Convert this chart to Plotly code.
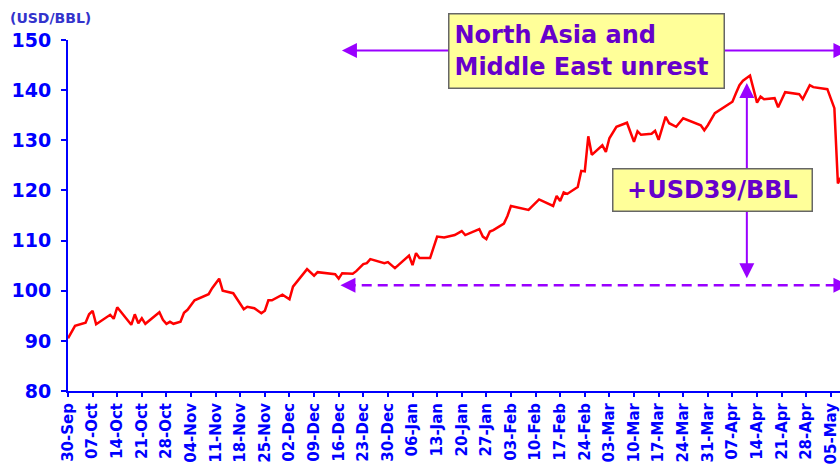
import pandas as pd
import plotly.graph_objects as go

# ---- data ----
start_date = "2010-09-30"
day_offset = [0, 2, 5, 6, 7, 8, 12, 13, 14, 18, 19, 20, 21, 22, 26, 27, 28, 29, 30, 32,
              33, 34, 36, 40, 41, 43, 44, 47, 50, 51, 53, 55, 56, 57, 58, 61, 63, 64, 68, 70,
              71, 76, 77, 78, 81, 82, 84, 85, 86, 90, 91, 93, 97, 98, 99, 100, 103, 105, 107, 110,
              112, 113, 117, 118, 119, 120, 121, 124, 125, 126, 131, 134, 138, 139, 140, 141, 142, 145, 146, 147,
              148, 149, 152, 153, 154, 156, 159, 161, 162, 163, 166, 167, 168, 170, 171, 173, 175, 180, 181, 182,
              184, 187, 189, 190, 191, 192, 194, 196, 197, 198, 201, 202, 204, 208, 209, 211, 212, 216, 218, 219,
              220]
price = [90.5, 93.0, 93.6, 95.3, 96.0, 93.3, 95.2, 94.4, 96.7, 93.2, 95.3, 93.5, 94.5, 93.4, 95.7, 94.2, 93.4, 93.8, 93.4, 93.8,
         95.6, 96.2, 98.1, 99.3, 100.5, 102.4, 100.0, 99.5, 96.3, 96.8, 96.5, 95.5, 96.0, 98.1, 98.1, 99.2, 98.3, 100.8, 104.3, 103.0,
         103.7, 103.3, 102.4, 103.5, 103.4, 103.9, 105.3, 105.5, 106.3, 105.5, 105.7, 104.5, 107.0, 105.1, 107.5, 106.5, 106.5, 110.8, 110.6, 111.1,
         111.9, 111.1, 112.3, 110.8, 110.3, 111.8, 112.1, 113.4, 114.9, 116.9, 116.1, 118.2, 116.9, 118.9, 117.9, 119.6, 119.3, 120.7, 123.9, 123.8,
         130.8, 127.1, 129.0, 127.7, 130.4, 132.7, 133.5, 129.7, 131.8, 131.1, 131.3, 131.9, 130.1, 134.7, 133.4, 132.7, 134.4, 133.0, 132.0, 133.0,
         135.4, 136.7, 137.7, 139.4, 141.0, 141.9, 142.9, 137.5, 138.7, 138.2, 138.4, 136.6, 139.6, 139.2, 138.2, 141.0, 140.6, 140.2, 136.4, 121.4,
         122.8]
y_ticks = [80, 90, 100, 110, 120, 130, 140, 150]
unit_label = "(USD/BBL)"
box1_text = "North Asia and<br>Middle East unrest"
box2_text = "+USD39/BBL"
unrest_level = 147.9       # solid arrow level
base_level = 101.1         # dashed line level
rise_top, rise_bottom = 141.4, 102.7

# ---- helpers ----
t0 = pd.Timestamp(start_date)
def d(days):
    return t0 + pd.Timedelta(days=days)

dates = [d(o) for o in day_offset]

BLUE = "#0000FF"
PURPLE = "#9900FF"
TEXT_PURPLE = "#6600CC"
FONT = "DejaVu Sans"

W, H = 840, 464
ML, MR, MT, MB = 68, 0, 40, 73
x_end = d(219.6)

fig = go.Figure()
fig.add_trace(go.Scatter(x=dates, y=price, mode="lines",
                         line=dict(color="#FF0000", width=2.5),
                         showlegend=False, hoverinfo="skip"))

# dashed baseline
fig.add_shape(type="line", xref="x", yref="y", x0=d(79), x1=d(221), y0=base_level, y1=base_level,
              line=dict(color=PURPLE, width=2.5, dash="10px,6px"))

ann = []
arrow_common = dict(xref="x", yref="y", axref="x", ayref="y", text="", showarrow=True,
                    arrowcolor=PURPLE, arrowwidth=2, arrowsize=1.5, arrowhead=2,
                    startarrowhead=2, startarrowsize=1.5, standoff=0, startstandoff=0)
# solid double arrow
ann.append(dict(x=d(222), y=unrest_level, ax=d(77.5), ay=unrest_level, arrowside="end+start", **arrow_common))
# vertical double arrow
ann.append(dict(x=d(193.1), y=rise_top, ax=d(193.1), ay=rise_bottom - 0.5, arrowside="end+start", **arrow_common))
# dashed line arrowheads
ann.append(dict(x=d(77.5), y=base_level, ax=d(80), ay=base_level, arrowside="end", **arrow_common))
ann.append(dict(x=d(222), y=base_level, ax=d(219), ay=base_level, arrowside="end", **arrow_common))

# text boxes
ann.append(dict(x=d(147.8), y=unrest_level, xref="x", yref="y", text=box1_text, showarrow=False,
                xanchor="center", yanchor="middle", align="left", width=264, height=63,
                xshift=-1,
                font=dict(family=FONT, size=24, color=TEXT_PURPLE, weight="bold"),
                bgcolor="#FFFF99", bordercolor="#666666", borderwidth=1.5, borderpad=5))
ann.append(dict(x=d(183.4), y=120.0, xref="x", yref="y", text=box2_text, showarrow=False,
                xanchor="center", yanchor="middle", align="center", width=188, height=31,
                font=dict(family=FONT, size=24, color=TEXT_PURPLE, weight="bold"),
                bgcolor="#FFFF99", bordercolor="#666666", borderwidth=1.5, borderpad=5))

# unit label
pw, ph = W - ML - MR, H - MT - MB
ann.append(dict(x=(8 - ML) / pw, y=(H - MB - 18) / ph, xref="paper", yref="paper",
                text=unit_label, showarrow=False, xanchor="left", yanchor="middle",
                font=dict(family=FONT, size=14, color="#3333CC", weight="bold")))

fig.update_layout(
    width=W, height=H,
    margin=dict(l=ML, r=MR, t=MT, b=MB, pad=0, autoexpand=False),
    paper_bgcolor="white", plot_bgcolor="white",
    annotations=ann,
    xaxis=dict(type="date", range=[t0, x_end], tickmode="linear", tick0=t0,
               dtick=7 * 86400000, tickformat="%d-%b", tickangle=-90, automargin=False,
               tickfont=dict(family=FONT, size=15, color=BLUE, weight="bold"),
               showline=True, linecolor=BLUE, linewidth=2, ticks="outside",
               ticklen=4, tickwidth=2, tickcolor=BLUE, showgrid=False, zeroline=False),
    yaxis=dict(range=[80, 150], tickmode="array", tickvals=y_ticks, automargin=False,
               tickfont=dict(family=FONT, size=19, color=BLUE, weight="bold"),
               ticklabelstandoff=6,
               showline=True, linecolor=BLUE, linewidth=2, ticks="outside",
               ticklen=5, tickwidth=2, tickcolor=BLUE, showgrid=False, zeroline=False),
)

# place the figure at the page's top-left corner (no default body margin / scrollbars)
fig.write_html("out.html", config={"displayModeBar": False},
               post_script="document.body.style.margin='0';document.body.style.overflow='hidden';")
